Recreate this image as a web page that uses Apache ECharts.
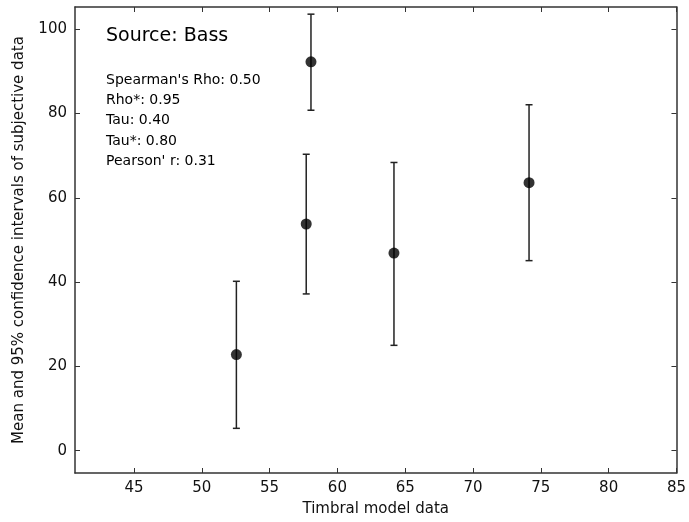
<!DOCTYPE html>
<html><head><meta charset="utf-8">
<script src="https://cdn.jsdelivr.net/npm/echarts@6/dist/echarts.min.js"></script>
<style>html,body{margin:0;padding:0;background:#fff;overflow:hidden}#c{width:689px;height:522px}</style>
</head><body><div id="c"></div>
<script>
const xValues = [52.55, 57.7, 58.05, 64.17, 74.13];
const means = [22.8, 53.8, 92.3, 46.9, 63.6];
const lowers = [5.3, 37.2, 80.8, 25.0, 45.1];
const uppers = [40.2, 70.35, 103.6, 68.4, 82.1];
const xTicks = [45, 50, 55, 60, 65, 70, 75, 80, 85];
const yTicks = [0, 20, 40, 60, 80, 100];
const statLines = ["Spearman's Rho: 0.50", "Rho*: 0.95", "Tau: 0.40", "Tau*: 0.80", "Pearson' r: 0.31"];

const FONT = 'DejaVu Sans';
const chart = echarts.init(document.getElementById('c'));
const axisCommon = (ticks, showLabel) => ({
  axisLine: {show: true, onZero: false, lineStyle: {color: '#333', width: 1.5}},
  axisTick: {show: true, inside: true, length: 5, customValues: ticks, lineStyle: {color: '#333', width: 1}},
  axisLabel: {show: showLabel, customValues: ticks, color: '#111', fontFamily: FONT, fontSize: 15, margin: 8},
  splitLine: {show: false}
});
const xMin = 40.65, xMax = 85, yMin = -5.3, yMax = 105.3;
const option = {
  animation: false,
  backgroundColor: '#fff',
  grid: {left: 75, right: 8, top: 7, bottom: 46, containLabel: false},
  xAxis: [
    Object.assign({type: 'value', min: xMin, max: xMax, position: 'bottom',
      name: 'Timbral model data', nameLocation: 'middle', nameGap: 29,
      nameTextStyle: {fontFamily: FONT, fontSize: 15, color: '#111'}}, axisCommon(xTicks, true)),
    Object.assign({type: 'value', min: xMin, max: xMax, position: 'top'}, axisCommon(xTicks, false))
  ],
  yAxis: [
    Object.assign({type: 'value', min: yMin, max: yMax, position: 'left',
      name: 'Mean and 95% confidence intervals of subjective data', nameLocation: 'middle', nameGap: 48,
      nameTextStyle: {fontFamily: FONT, fontSize: 15, color: '#111'}}, axisCommon(yTicks, true)),
    Object.assign({type: 'value', min: yMin, max: yMax, position: 'right'}, axisCommon(yTicks, false))
  ],
  series: [
    {
      type: 'custom',
      xAxisIndex: 0, yAxisIndex: 0,
      data: xValues.map((x, i) => [x, lowers[i], uppers[i]]),
      renderItem: function (params, api) {
        const x = api.value(0);
        const lo = api.coord([x, api.value(1)]);
        const hi = api.coord([x, api.value(2)]);
        const hw = 3.5;
        const st = {stroke: '#222', lineWidth: 1.5};
        return {type: 'group', children: [
          {type: 'line', shape: {x1: lo[0], y1: lo[1], x2: hi[0], y2: hi[1]}, style: st},
          {type: 'line', shape: {x1: lo[0] - hw, y1: lo[1], x2: lo[0] + hw, y2: lo[1]}, style: st},
          {type: 'line', shape: {x1: hi[0] - hw, y1: hi[1], x2: hi[0] + hw, y2: hi[1]}, style: st}
        ]};
      },
      z: 2
    },
    {
      type: 'scatter',
      xAxisIndex: 0, yAxisIndex: 0,
      data: xValues.map((x, i) => [x, means[i]]),
      symbol: 'circle', symbolSize: 11,
      itemStyle: {color: '#000'},
      z: 3
    }
  ],
  graphic: [
    {type: 'text', left: 106, top: 27, style: {text: 'Source: Bass', fontFamily: FONT, fontSize: 19, fill: '#000'}},
    {type: 'text', left: 106, top: 70, style: {text: statLines.join('\n'), fontFamily: FONT, fontSize: 14, lineHeight: 20.3, fill: '#000'}}
  ]
};
chart.setOption(option);
</script>
</body></html>
